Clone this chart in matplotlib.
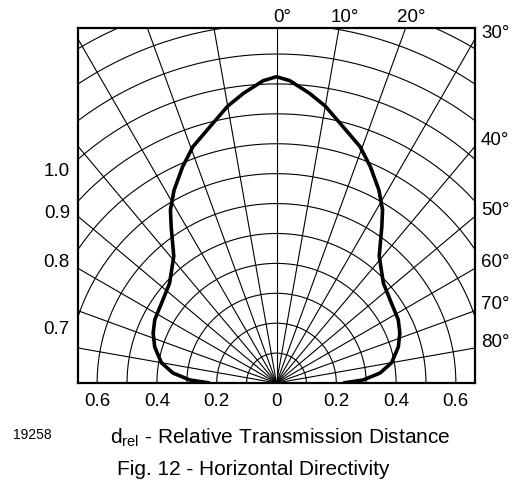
import numpy as np
import matplotlib.pyplot as plt

plt.rcParams['font.family'] = ['Liberation Sans', 'DejaVu Sans']
plt.rcParams['mathtext.fontset'] = 'custom'
plt.rcParams['mathtext.rm'] = 'Liberation Sans'
plt.rcParams['mathtext.it'] = 'Liberation Sans'

angles = [0, 2.5, 6.5, 10, 14.5, 19.5, 23.5, 28, 31.5, 34, 39, 47, 55,
          62.5, 68, 73.5, 80, 84.5, 88, 90]
d_rel = [1.024, 1.012, 0.975, 0.94, 0.886, 0.838, 0.788, 0.73, 0.679, 0.63,
         0.546, 0.489, 0.4685, 0.459, 0.445, 0.425, 0.391, 0.348, 0.29, 0.223]

# grid
ring_radii = [0.1, 0.2, 0.3, 0.4, 0.5, 0.6, 0.7, 0.8, 0.9, 1.0, 1.1, 1.2, 1.3]
spoke_angles = [-80, -70, -60, -50, -40, -30, -20, -10, 0, 10, 20, 30, 40, 50, 60, 70, 80]

# labels
x_ticks = [-0.6, -0.4, -0.2, 0, 0.2, 0.4, 0.6]
x_tick_labels = ['0.6', '0.4', '0.2', '0', '0.2', '0.4', '0.6']
top_angles = [0, 10, 20]
side_angles = [30, 40, 50, 60, 70, 80]
ring_labels = [1.0, 0.9, 0.8, 0.7]

xmax, ymax = 0.664, 1.187

fig = plt.figure(figsize=(5.17, 4.83), dpi=100)
ax = fig.add_axes([78 / 517, 100 / 483, 397 / 517, 355 / 483])
ax.set_xlim(-xmax, xmax)
ax.set_ylim(0, ymax)

t = np.radians(np.linspace(-90, 90, 600))
for r in ring_radii:
    ax.plot(r * np.sin(t), r * np.cos(t), color='black', lw=0.8, zorder=1)
for a in spoke_angles:
    ar = np.radians(a)
    ax.plot([0, 3 * np.sin(ar)], [0, 3 * np.cos(ar)], color='black', lw=0.8, zorder=1)

th = np.radians(np.concatenate([-np.array(angles[::-1]), np.array(angles[1:])]))
rr = np.concatenate([np.array(d_rel[::-1]), np.array(d_rel[1:])])
ax.plot(rr * np.sin(th), rr * np.cos(th), color='black', lw=2.6, zorder=3,
        solid_joinstyle='round', solid_capstyle='butt')

for s in ax.spines.values():
    s.set_linewidth(1.6)
    s.set_zorder(4)

ax.set_xticks(x_ticks, x_tick_labels)
ax.set_yticks([])
ax.tick_params(axis='x', length=0, pad=7, labelsize=13.5)

# angle labels
for a in top_angles:
    ax.text(ymax * np.tan(np.radians(a)) + 0.018, ymax + 0.02, f'{a}°',
            ha='center', va='baseline', fontsize=13.5, clip_on=False)
for a in side_angles:
    ax.text(xmax + 0.02, xmax / np.tan(np.radians(a)) + 0.02, f'{a}°',
            ha='left', va='center', fontsize=13.5, clip_on=False)

# ring labels on the left, just below where each ring meets the frame
for v in ring_labels:
    ax.text(-xmax - 0.027, np.sqrt(v ** 2 - xmax ** 2) - 0.042, f'{v:.1f}',
            ha='right', va='center', fontsize=13.5, clip_on=False)

fig.text(110 / 517, 1 - 444 / 483, r'd$_{\rm rel}$ - Relative Transmission Distance',
         ha='left', va='baseline', fontsize=15)
fig.text(117 / 517, 1 - 475 / 483, 'Fig. 12 - Horizontal Directivity',
         ha='left', va='baseline', fontsize=15)
fig.text(13 / 517, 1 - 439 / 483, '19258', ha='left', va='baseline', fontsize=10)

fig.savefig('out.png', dpi=100)
